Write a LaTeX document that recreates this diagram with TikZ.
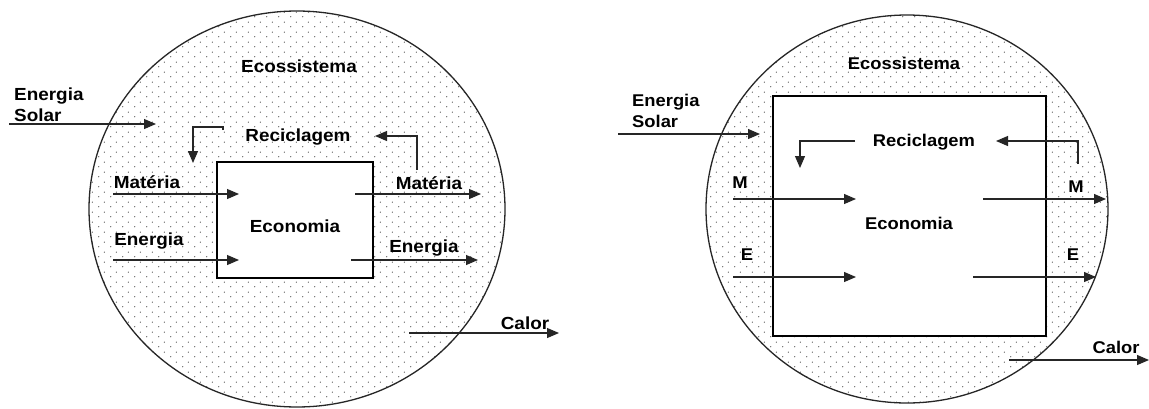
\documentclass[tikz,border=0pt]{standalone}
\usepackage{fontspec}
\setmainfont{Liberation Sans}[FakeStretch=1.08]
\usetikzlibrary{arrows.meta,patterns.meta,shapes.geometric}
\tikzdeclarepattern{
  name=sdots,
  type=uncolored,
  bounding box={(0pt,0pt) and (12pt,10pt)},
  tile size={(12pt,10pt)},
  code={
    \fill (3pt,2.5pt) circle (0.7pt);
    \fill (9pt,7.5pt) circle (0.7pt);
  }
}
\tikzset{
  eco/.style={ellipse, draw=black!85, line width=1.3pt, pattern=sdots, pattern color=black!70, inner sep=0pt},
  econ/.style={rectangle, draw=black, fill=white, line width=2.6pt, inner sep=0pt},
  lbl/.style={inner sep=0pt, font=\fontsize{17.5}{21}\selectfont\bfseries},
  lblr/.style={inner sep=0pt, font=\fontsize{17}{21}\selectfont\bfseries},
  flow/.style={draw=black!85, line width=1.1pt, -{Triangle[length=12pt,width=10pt]}},
}
\begin{document}
\begin{tikzpicture}[x=1pt,y=-1pt]
\useasboundingbox (0,0) rectangle (1149,408);
\fill[white] (0,0) rectangle (1149,408);

% ---------------- Left diagram ----------------
\node[eco, minimum width=416pt, minimum height=396pt] (ecoL) at (297,209) {};
\node[econ, minimum width=156pt, minimum height=116pt] (boxL) at (295,220) {};

\node[lbl] (ecotL) at (299,66) {Ecossistema};
\node[lbl, align=left, anchor=west] (solarL) at (14,104.5) {Energia\\Solar};
\node[lbl] (recL) at (298,137) {Reciclagem};
\node[lbl] (econL) at (295,226) {Economia};
\node[lbl] (matinL) at (147,182) {Matéria};
\node[lbl] (eninL) at (149,241) {Energia};
\node[lbl] (matoutL) at (429,183) {Matéria};
\node[lbl] (enoutL) at (424,248) {Energia};
\node[lbl] (calL) at (525,323) {Calor};

\coordinate (sL0) at (9,124);     \coordinate (sL1) at (156,124);
\coordinate (rLa) at (223,130);   \coordinate (rLb) at (223,127);
\coordinate (rLc) at (193,127);   \coordinate (rLd) at (193,163);
\coordinate (rRa) at (417,170);   \coordinate (rRb) at (417,136);
\coordinate (rRc) at (375,136);
\coordinate (miL0) at (113,194);  \coordinate (miL1) at (239,194);
\coordinate (eiL0) at (113,260);  \coordinate (eiL1) at (239,260);
\coordinate (moL0) at (355,194);  \coordinate (moL1) at (481,194);
\coordinate (eoL0) at (351,260);  \coordinate (eoL1) at (478,260);
\coordinate (cL0) at (409,333);   \coordinate (cL1) at (559,333);

\draw[flow] (sL0) -- (sL1);
\draw[flow] (rLa) -- (rLb) -- (rLc) -- (rLd);
\draw[flow] (rRa) -- (rRb) -- (rRc);
\draw[flow] (miL0) -- (miL1);
\draw[flow] (eiL0) -- (eiL1);
\draw[flow] (moL0) -- (moL1);
\draw[flow] (eoL0) -- (eoL1);
\draw[flow] (cL0) -- (cL1);

% ---------------- Right diagram ----------------
\node[eco, minimum width=402pt, minimum height=388pt] (ecoR) at (907,209) {};
\node[econ, minimum width=273pt, minimum height=240pt] (boxR) at (909.5,216) {};

\node[lblr] (ecotR) at (904,63) {Ecossistema};
\node[lblr, align=left, anchor=west] (solarR) at (632,111) {Energia\\Solar};
\node[lblr] (recR) at (924,142) {Reciclagem};
\node[lblr] (econR) at (909,223) {Economia};
\node[lblr] (minR) at (740,183) {M};
\node[lblr] (moutR) at (1076,187) {M};
\node[lblr] (einR) at (747,255) {E};
\node[lblr] (eoutR) at (1073,255) {E};
\node[lblr] (calR) at (1116,347) {Calor};

\coordinate (sR0) at (618,134);   \coordinate (sR1) at (760,134);
\coordinate (rRLa) at (855,141);  \coordinate (rRLb) at (800,141);
\coordinate (rRLc) at (800,168);
\coordinate (rRRa) at (1078,164); \coordinate (rRRb) at (1078,141);
\coordinate (rRRc) at (996,141);
\coordinate (miR0) at (733,199);  \coordinate (miR1) at (856,199);
\coordinate (moR0) at (983,199);  \coordinate (moR1) at (1106,199);
\coordinate (eiR0) at (733,277);  \coordinate (eiR1) at (856,277);
\coordinate (eoR0) at (973,277);  \coordinate (eoR1) at (1096,277);
\coordinate (cR0) at (1009,360);  \coordinate (cR1) at (1149,360);

\draw[flow] (sR0) -- (sR1);
\draw[flow] (rRLa) -- (rRLb) -- (rRLc);
\draw[flow] (rRRa) -- (rRRb) -- (rRRc);
\draw[flow] (miR0) -- (miR1);
\draw[flow] (moR0) -- (moR1);
\draw[flow] (eiR0) -- (eiR1);
\draw[flow] (eoR0) -- (eoR1);
\draw[flow] (cR0) -- (cR1);
\end{tikzpicture}
\end{document}
